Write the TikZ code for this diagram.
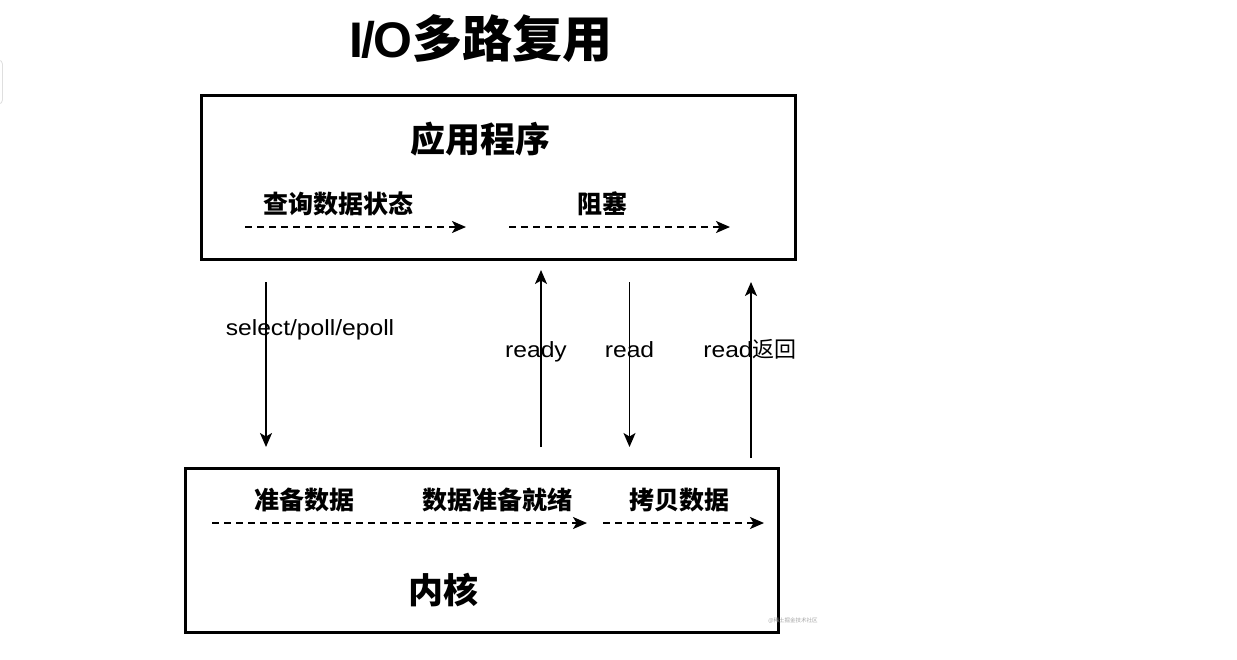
\documentclass[tikz,border=0pt]{standalone}
\usepackage{fontspec}
\setmainfont{Liberation Sans}
\newfontfamily\cjk{Noto Sans CJK SC}
\newfontfamily\lab{Liberation Sans}[FakeStretch=1.12]
\usetikzlibrary{arrows.meta}
\begin{document}
\begin{tikzpicture}[x=1pt,y=-1pt,
  box/.style={draw, line width=3pt, inner sep=0pt},
  lbl/.style={inner sep=0pt, font=\fontsize{25}{25}\selectfont\cjk\bfseries},
  big/.style={inner sep=0pt, font=\fontsize{35}{35}\selectfont\cjk\bfseries},
  arrlbl/.style={inner sep=0pt, anchor=base, font=\fontsize{22}{22}\selectfont\lab},
  arr/.style={line width=1.8pt, -{Stealth[length=14pt,width=12pt,inset=3.5pt]}},
  darr/.style={line width=1.8pt, dash pattern=on 7pt off 5pt, -{Stealth[length=14pt,width=12pt,inset=3.5pt]}}
]
\useasboundingbox (0,0) rectangle (1237,659);
\fill[white] (0,0) rectangle (1237,659);
% faint artefact at left edge
\draw[gray!25, line width=0.8pt, rounded corners=4pt] (-20,60) rectangle (2.5,104);

% title
\node[inner sep=0pt, font=\fontsize{50}{50}\selectfont\bfseries] (title) at (481,39) {I\kern-2pt/\kern-1pt O{\cjk\bfseries 多路复用}};

% boxes
\node[box, minimum width=594pt, minimum height=164pt] (app) at (498,177) {};
\node[box, minimum width=593pt, minimum height=164pt] (kern) at (481.5,550) {};

% top box texts
\node[big] (apptitle) at (480,139) {应用程序};
\node[lbl] (query) at (338,204) {查询数据状态};
\node[lbl] (block) at (602,204) {阻塞};
\coordinate (q1) at (245,227);
\coordinate (q2) at (466,227);
\coordinate (b1) at (509,227);
\coordinate (b2) at (730,227);
\draw[darr] (q1) -- (q2);
\draw[darr] (b1) -- (b2);

% bottom box texts
\node[lbl] (prep) at (304,500) {准备数据};
\node[lbl] (ready2) at (497,500) {数据准备就绪};
\node[lbl] (copy) at (679,500) {拷贝数据};
\node[big] (kerntitle) at (443,590) {内核};
\coordinate (p1) at (212,523);
\coordinate (p2) at (587,523);
\coordinate (c1) at (603,523);
\coordinate (c2) at (764,523);
\draw[darr] (p1) -- (p2);
\draw[darr] (c1) -- (c2);

% vertical arrows
\coordinate (s1) at (266,282);
\coordinate (s2) at (266,447);
\coordinate (r1) at (541,447);
\coordinate (r2) at (541,270);
\coordinate (d1) at (629.5,282);
\coordinate (d2) at (629.5,447);
\coordinate (e1) at (751,458);
\coordinate (e2) at (751,282);
\draw[arr] (s1) -- (s2);
\draw[arr] (r1) -- (r2);
\draw[arr] (d1) -- (d2);
\draw[arr] (e1) -- (e2);

% arrow labels
\node[arrlbl] (lsel) at (310,335) {select/poll/epoll};
\node[arrlbl] (lready) at (536,357) {ready};
\node[arrlbl] (lread) at (629.5,357) {read};
\node[arrlbl] (lret) at (750,357) {read{\cjk 返回}};

% watermark
\node[inner sep=0pt, text=gray!70, font=\fontsize{5.5}{5.5}\selectfont\cjk] (wm) at (793,621) {@稀土掘金技术社区};
\end{tikzpicture}
\end{document}
